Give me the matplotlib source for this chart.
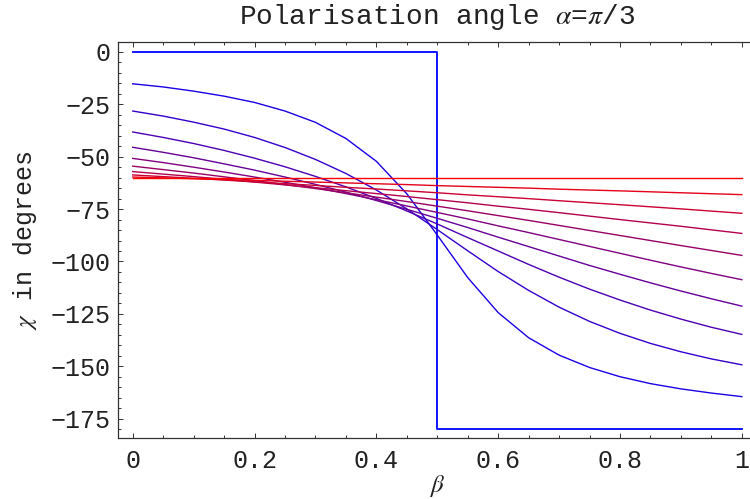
# Polarisation angle chi against beta for a family of curves
# (alpha = pi/3), colours going from blue (step) to red (flat)
import matplotlib
matplotlib.use("Agg")
import matplotlib.pyplot as plt
from matplotlib.ticker import MultipleLocator

# values
# strongly bent curves are read at a finer step
beta_fine = [0, 0.05, 0.1, 0.15, 0.2, 0.25, 0.3, 0.35, 0.4, 0.45, 0.5,
             0.55, 0.6, 0.65, 0.7, 0.75, 0.8, 0.85, 0.9, 0.95, 1.0]
beta = [0, 0.1, 0.2, 0.3, 0.35, 0.4, 0.45, 0.5, 0.55, 0.6, 0.65, 0.7, 0.8, 0.9, 1.0]

# the blue step curve
beta_step = [0, 0.5, 0.5, 1.0]
chi_step = [0, 0, -180, -180]

chi_9 = [-15.2, -16.7, -18.7, -21.1, -24.1, -28.2, -33.6, -41.3, -52.2, -67.7, -87.4,
         -107.7, -124.4, -136.4, -144.7, -150.6, -155.0, -158.3, -160.8, -162.8, -164.5]
chi_18 = [-28.2, -30.6, -33.5, -36.8, -40.8, -45.6, -51.3, -58.0, -65.9, -74.9, -84.8,
          -94.9, -104.8, -113.8, -121.8, -128.6, -134.3, -139.1, -143.1, -146.5, -149.3]
chi_27 = [-38.2, -40.8, -43.7, -47.0, -50.7, -54.8, -59.4, -64.4, -69.9, -75.9, -82.1,
          -88.6, -95.0, -101.4, -107.5, -113.2, -118.4, -123.2, -127.5, -131.4, -134.8]
chi_36 = [-45.5, -47.9, -50.5, -53.4, -56.4, -59.7, -63.2, -66.9, -70.9, -75.1, -79.4,
          -83.8, -88.4, -92.9, -97.4, -101.9, -106.1, -110.2, -114.1, -117.8, -121.3]
chi_45 = [-50.8, -52.8, -55.0, -57.3, -59.7, -62.2, -64.8, -67.6, -70.5, -73.5, -76.6,
          -79.7, -83.0, -86.2, -89.5, -92.8, -96.1, -99.4, -102.6, -105.7, -108.7]
chi_54 = [-54.5, -57.8, -61.4, -65.2, -67.2, -69.3, -71.4, -73.6, -75.8, -78.1, -80.4, -82.8, -87.6, -92.4, -97.1]
chi_63 = [-57.1, -59.5, -62.1, -64.8, -66.2, -67.6, -69.0, -70.5, -72.0, -73.6, -75.1, -76.7, -80.0, -83.2, -86.6]
chi_72 = [-58.7, -60.3, -62.0, -63.7, -64.6, -65.4, -66.3, -67.2, -68.2, -69.1, -70.0, -71.0, -72.9, -74.9, -77.0]
chi_81 = [-59.7, -60.5, -61.3, -62.1, -62.5, -62.9, -63.3, -63.8, -64.2, -64.6, -65.0, -65.5, -66.3, -67.2, -68.1]
chi_90 = [-60.0, -60.0, -60.0, -60.0, -60.0, -60.0, -60.0, -60.0, -60.0, -60.0, -60.0, -60.0, -60.0, -60.0, -60.0]

# (beta grid, chi values), blue -> red
curves = [(beta_fine, chi_9), (beta_fine, chi_18), (beta_fine, chi_27),
          (beta_fine, chi_36), (beta_fine, chi_45), (beta, chi_54),
          (beta, chi_63), (beta, chi_72), (beta, chi_81), (beta, chi_90)]

x_ticks = [0, 0.2, 0.4, 0.6, 0.8, 1.0]
x_tick_labels = ["0", "0.2", "0.4", "0.6", "0.8", "1"]
y_ticks = [0, -25, -50, -75, -100, -125, -150, -175]

plt.rcParams['font.family'] = ['Liberation Mono', 'DejaVu Sans']
plt.rcParams['mathtext.fontset'] = 'stix'
plt.rcParams['font.size'] = 18
text_color = "#222222"

fig = plt.figure(figsize=(7.5, 4.99), dpi=100)
ax = fig.add_axes([0.1567, 0.1216, 0.8527, 0.7936])

# step curve first (blue)
ax.plot(beta_step, chi_step, color=(0, 0, 1), lw=1.3)
n = len(curves)
for i in range(n):
    f = (i + 1) / n
    b, c = curves[i]
    ax.plot(b, c, color=(f, 0, 1 - f), lw=1.0)

ax.set_xlim(-0.025, 1.025)
ax.set_ylim(-184.4, 4.6)

ax.set_xticks(x_ticks)
ax.set_xticklabels(x_tick_labels)
ax.set_yticks(y_ticks)
ax.xaxis.set_minor_locator(MultipleLocator(0.05))
ax.yaxis.set_minor_locator(MultipleLocator(5))

ax.tick_params(which='both', direction='in', top=True, right=True,
               colors="#333333", labelcolor=text_color, width=0.7)
ax.tick_params(which='major', length=3.6)
ax.tick_params(which='minor', length=2)
ax.tick_params(axis='x', pad=8)
ax.tick_params(axis='y', pad=5)
for s in ax.spines.values():
    s.set_linewidth(0.9)
    s.set_color("#333333")

ax.set_title(r"Polarisation angle $\alpha$=$\pi$/3", color=text_color,
             fontsize=20, pad=13)
ax.set_xlabel(r"$\beta$", color=text_color, labelpad=0)
ax.set_ylabel(r"$\chi$ in degrees", color=text_color, labelpad=8)

fig.savefig("out.png", dpi=100)
